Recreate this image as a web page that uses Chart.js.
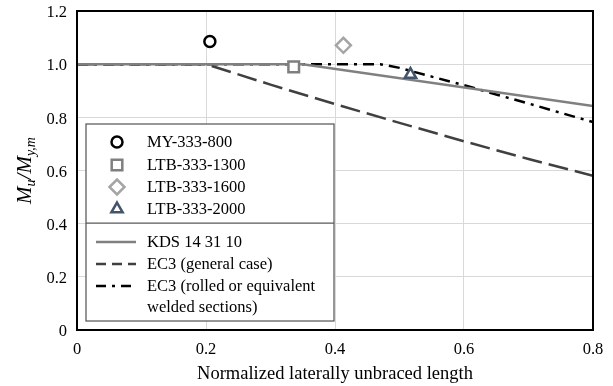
<!DOCTYPE html>
<html>
<head>
<meta charset="utf-8">
<script src="https://cdn.jsdelivr.net/npm/chart.js@4/dist/chart.umd.min.js"></script>
<style>
  body { margin: 0; background: #fff; }
  canvas { display: block; }
</style>
</head>
<body>
<canvas id="ltb-chart" width="613" height="386"></canvas>
<script>
// test results (normalized length, Mu/My,m)
const testNames = ["MY-333-800", "LTB-333-1300", "LTB-333-1600", "LTB-333-2000"];
const testX = [0.206, 0.336, 0.413, 0.517];
const testY = [1.085, 0.990, 1.071, 0.961];

// design curves
const kdsX = [0, 0.35, 0.8];
const kdsY = [1.0, 1.0, 0.843];

const ec3GeneralX = [0, 0.2, 0.3, 0.4, 0.5, 0.6, 0.7, 0.8];
const ec3GeneralY = [1.0, 1.0, 0.923, 0.850, 0.779, 0.710, 0.643, 0.580];

const ec3RolledX = [0, 0.47, 0.5, 0.55, 0.6, 0.65, 0.7, 0.75, 0.8];
const ec3RolledY = [1.0, 1.0, 0.986, 0.953, 0.921, 0.886, 0.852, 0.817, 0.782];

const curveNames = ["KDS 14 31 10", "EC3 (general case)", "EC3 (rolled or equivalent\nwelded sections)"];

const xTicks = [0, 0.2, 0.4, 0.6, 0.8];
const yTicks = [0, 0.2, 0.4, 0.6, 0.8, 1.0, 1.2];

const SERIF = "'Liberation Serif', 'Times New Roman', serif";

function toPoints(xs, ys) {
    return xs.map((x, i) => ({ x: x, y: ys[i] }));
}

function tickLabel(v) {
    return v === 0 ? "0" : Number(v).toFixed(1);
}

const markerStyles = [
    { pointStyle: "circle", color: "#000000", radius: 5.5 },
    { pointStyle: "rect", color: "#7f7f7f", radius: 7.5 },
    { pointStyle: "rectRot", color: "#a5a5a5", radius: 7.5 },
    { pointStyle: "triangle", color: "#44546a", radius: 6.5 },
];

const markerSets = testNames.map((name, i) => ({
    label: name,
    data: [{ x: testX[i], y: testY[i] }],
    showLine: false,
    pointStyle: markerStyles[i].pointStyle,
    pointRadius: markerStyles[i].radius,
    pointBorderWidth: 2.5,
    pointBorderColor: markerStyles[i].color,
    pointBackgroundColor: "#ffffff",
    order: 0,
}));

const curveSets = [
    {
        label: curveNames[0],
        data: toPoints(kdsX, kdsY),
        borderColor: "#808080",
        borderWidth: 2.5,
        borderDash: [],
        legendDash: [],
        order: 1,
    },
    {
        label: curveNames[1],
        data: toPoints(ec3GeneralX, ec3GeneralY),
        borderColor: "#404040",
        borderWidth: 2.5,
        borderDash: [20, 7],
        legendDash: [10, 6],
        order: 3,
    },
    {
        label: curveNames[2],
        data: toPoints(ec3RolledX, ec3RolledY),
        borderColor: "#000000",
        borderWidth: 2.5,
        borderDash: [11, 6, 3, 6],
        legendDash: [10, 6, 3, 6],
        order: 2,
    },
].map((ds) => Object.assign(ds, { showLine: true, pointRadius: 0, tension: 0, fill: false }));

// frame, axis titles and the boxed legend
const decorations = {
    id: "decorations",
    afterDraw(chart) {
        const ctx = chart.ctx;
        const area = chart.chartArea;

        ctx.save();
        ctx.strokeStyle = "#000000";
        ctx.lineWidth = 2;
        ctx.strokeRect(area.left, area.top, area.right - area.left, area.bottom - area.top);

        // x title
        ctx.fillStyle = "#000000";
        ctx.font = "18.5px " + SERIF;
        ctx.textAlign = "center";
        ctx.textBaseline = "alphabetic";
        ctx.fillText("Normalized laterally unbraced length", (area.left + area.right) / 2, 379);

        // y title: Mu/My,m with italic subscripts
        const parts = [
            { t: "M", size: 21, dy: 0 },
            { t: "u", size: 14, dy: 4 },
            { t: "/", size: 21, dy: 0 },
            { t: "M", size: 21, dy: 0 },
            { t: "y,m", size: 14, dy: 4 },
        ];
        let total = 0;
        parts.forEach((p) => {
            ctx.font = "italic " + p.size + "px " + SERIF;
            p.w = ctx.measureText(p.t).width;
            total += p.w;
        });
        ctx.translate(31, (area.top + area.bottom) / 2);
        ctx.rotate(-Math.PI / 2);
        ctx.textAlign = "left";
        let px = -total / 2;
        parts.forEach((p) => {
            ctx.font = "italic " + p.size + "px " + SERIF;
            ctx.fillText(p.t, px, p.dy);
            px += p.w;
        });
        ctx.restore();

        // legend box
        const box = { left: 86, top: 124, right: 334, bottom: 321, split: 223 };
        ctx.save();
        ctx.fillStyle = "#ffffff";
        ctx.fillRect(box.left, box.top, box.right - box.left, box.bottom - box.top);
        ctx.strokeStyle = "#595959";
        ctx.lineWidth = 1.25;
        ctx.strokeRect(box.left, box.top, box.right - box.left, box.bottom - box.top);
        ctx.beginPath();
        ctx.moveTo(box.left, box.split);
        ctx.lineTo(box.right, box.split);
        ctx.stroke();

        ctx.font = "16.5px " + SERIF;
        ctx.textAlign = "left";
        ctx.textBaseline = "middle";

        const markerRows = [142, 165, 187, 209];
        markerSets.forEach((ds, i) => {
            ctx.save();
            ctx.strokeStyle = ds.pointBorderColor;
            ctx.fillStyle = "#ffffff";
            ctx.lineWidth = ds.pointBorderWidth;
            Chart.helpers.drawPoint(ctx, {
                pointStyle: ds.pointStyle,
                rotation: 0,
                radius: ds.pointRadius,
                borderWidth: ds.pointBorderWidth,
            }, 117, markerRows[i]);
            ctx.restore();
            ctx.fillStyle = "#000000";
            ctx.fillText(ds.label, 147, markerRows[i] + 1);
        });

        const curveRows = [242, 264, 286];
        curveSets.forEach((ds, i) => {
            ctx.save();
            ctx.strokeStyle = ds.borderColor;
            ctx.lineWidth = ds.borderWidth;
            ctx.setLineDash(ds.legendDash);
            ctx.beginPath();
            ctx.moveTo(96, curveRows[i]);
            ctx.lineTo(136, curveRows[i]);
            ctx.stroke();
            ctx.restore();
            ctx.fillStyle = "#000000";
            ds.label.split("\n").forEach((line, k) => {
                ctx.fillText(line, 147, curveRows[i] + 1 + k * 21);
            });
        });
        ctx.restore();
    },
};

const axisFont = { family: SERIF, size: 16.5 };

new Chart(document.getElementById("ltb-chart"), {
    type: "scatter",
    data: { datasets: [...markerSets, ...curveSets] },
    options: {
        responsive: false,
        animation: false,
        layout: { padding: { top: 11, right: 20, left: 0, bottom: 0 } },
        plugins: {
            legend: { display: false },
            tooltip: { enabled: false },
        },
        scales: {
            x: {
                type: "linear",
                min: 0,
                max: 0.8,
                afterFit: (scale) => {
                    scale.height = 56;
                    scale.paddingLeft = 0;
                    scale.paddingRight = 0;
                },
                afterBuildTicks: (scale) => { scale.ticks = xTicks.map((v) => ({ value: v })); },
                ticks: { callback: tickLabel, font: axisFont, color: "#000000", padding: 10 },
                grid: { color: "#d9d9d9", lineWidth: 1, drawTicks: false },
                border: { display: false },
            },
            y: {
                type: "linear",
                min: 0,
                max: 1.2,
                afterFit: (scale) => {
                    scale.width = 77;
                    scale.paddingTop = 0;
                    scale.paddingBottom = 0;
                },
                afterBuildTicks: (scale) => { scale.ticks = yTicks.map((v) => ({ value: v })); },
                ticks: { callback: tickLabel, font: axisFont, color: "#000000", padding: 10, labelOffset: 2 },
                grid: { color: "#d9d9d9", lineWidth: 1, drawTicks: false },
                border: { display: false },
            },
        },
    },
    plugins: [decorations],
});
</script>
</body>
</html>
